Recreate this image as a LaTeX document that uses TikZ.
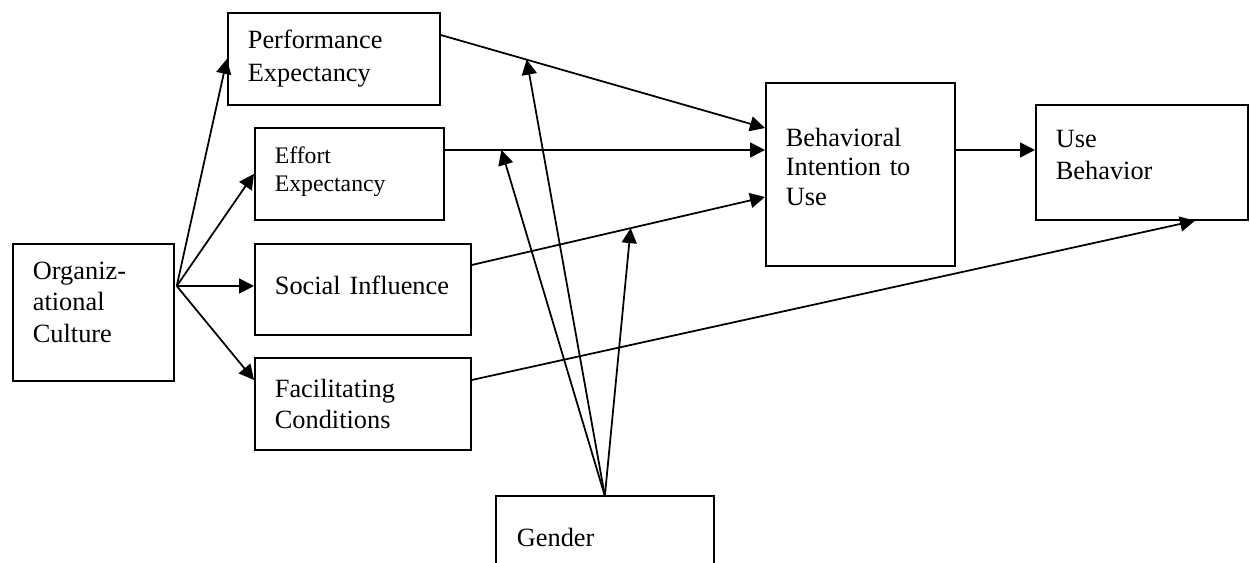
\documentclass[tikz,border=0pt]{standalone}
\usepackage{fontspec}
\setmainfont{Liberation Serif}
\usetikzlibrary{arrows.meta}

\begin{document}
\begin{tikzpicture}[x=0.02cm, y=-0.02cm,
box/.style = {draw, line width=1pt, anchor=north west, align=left, inner xsep=0.4cm,
  font=\fontsize{15}{17.8}\selectfont},
lift/.style = {execute at end node={\endgraf\vspace*{#1}}},
arr/.style = {line width=1pt, -{Triangle[length=3mm,width=3mm]}}]
\useasboundingbox (0,0) rectangle (1250,563);
\node[box, lift=0.4cm, text width=2.42cm, minimum height=2.74cm] (org) at (12,243) {Organiz-\\ational\\Culture};
\node[box, text width=3.44cm, minimum height=1.84cm, font=\fontsize{15}{18.7}\selectfont] (perf) at (227,12) {Performance\\Expectancy};
\node[box, lift=0.1cm, text width=2.98cm, minimum height=1.84cm, font=\fontsize{13.5}{15.9}\selectfont] (effort) at (254,127) {Effort\\Expectancy};
\node[box, lift=0.15cm, text width=3.52cm, minimum height=1.82cm] (social) at (254,243) {Social Influence};
\node[box, text width=3.52cm, minimum height=1.84cm] (facil) at (254,357) {Facilitating\\Conditions};
\node[box, lift=0.3cm, text width=2.98cm, minimum height=3.66cm, font=\fontsize{15}{16.8}\selectfont] (bi) at (765,82) {Behavioral\\Intention to\\Use};
\node[box, lift=0.3cm, text width=3.44cm, minimum height=2.3cm] (use) at (1035,104) {Use\\Behavior};
\node[box, draw=none, text width=3.52cm, minimum height=1.64cm] (gender) at (496,496) {Gender};
\draw[line width=1pt] (gender.south west) -- (gender.north west) -- (gender.north east) -- (gender.south east);

\coordinate (fan) at ([shift={(2,43)}]org.north east);
\draw[arr] (fan) -- (perf.west);
\draw[arr] (fan) -- (effort.west);
\draw[arr] (fan) -- ([shift={(0,43)}]social.north west);
\draw[arr] (fan) -- ([shift={(0,23)}]facil.north west);

\draw[arr] ([shift={(0,23)}]perf.north east) -- coordinate[pos=0.265] (m1) ([shift={(0,46)}]bi.north west);
\draw[arr] ([shift={(0,23)}]effort.north east) -- coordinate[pos=0.177] (m2) ([shift={(0,68)}]bi.north west);
\draw[arr] ([shift={(0,22)}]social.north east) -- coordinate[pos=0.542] (m3) ([shift={(0,115)}]bi.north west);
\draw[arr] ([shift={(0,23)}]facil.north east) -- ([shift={(160,0)}]use.south west);
\draw[arr] ([shift={(0,68)}]bi.north east) -- ([shift={(0,46)}]use.north west);

\draw[arr] (gender.north) -- (m1);
\draw[arr] (gender.north) -- (m2);
\draw[arr] (gender.north) -- (m3);
\end{tikzpicture}
\end{document}
